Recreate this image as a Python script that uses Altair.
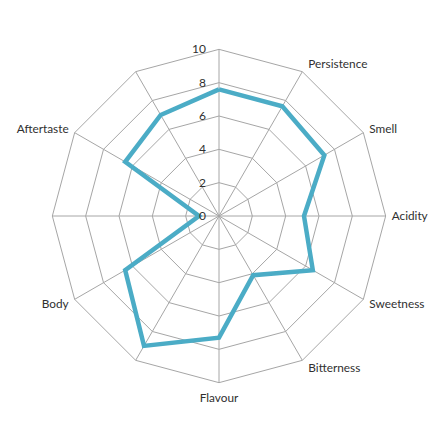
import altair as alt
import pandas as pd

categories = ["", "Persistence", "Smell", "Acidity", "Sweetness", "Bitterness",
              "Flavour", "", "Body", "", "Aftertaste", ""]
values = [7.6, 7.6, 7.3, 5.1, 6.5, 4.1, 7.3, 9.0, 6.5, 1.2, 6.5, 7.0]
ticks = [0, 2, 4, 6, 8, 10]
rmax = 10

n = len(categories)
FONT = "Lato"
GRID = "#a6a6a6"
LINE = "#4bacc6"
TEXT = "#303030"

series = pd.DataFrame({"idx": list(range(n)) + [n],
                       "value": values + [values[0]]})
rings = pd.DataFrame([{"ring": t, "idx": i} for t in ticks if t > 0 for i in range(n + 1)])
spokes = pd.DataFrame({"idx": list(range(n)), "cat": categories})
tickdf = pd.DataFrame({"tick": ticks, "label": [str(t) for t in ticks]})

N = str(n)
ang = "datum.idx * 2 * PI / " + N

xs = alt.Scale(domain=[-12.66, 12.90], nice=False, zero=False)
ys = alt.Scale(domain=[-13.08, 12.48], nice=False, zero=False)

ring_layer = alt.Chart(rings).transform_calculate(
    x="datum.ring * sin(" + ang + ")", y="datum.ring * cos(" + ang + ")"
).mark_line(color=GRID, strokeWidth=1).encode(
    x=alt.X("x:Q", scale=xs, axis=None),
    y=alt.Y("y:Q", scale=ys, axis=None),
    detail="ring:N",
    order="idx:Q",
)

spoke_layer = alt.Chart(spokes).transform_calculate(
    x0="0", y0="0",
    x=str(rmax) + " * sin(" + ang + ")", y=str(rmax) + " * cos(" + ang + ")"
).mark_rule(color=GRID, strokeWidth=1).encode(
    x=alt.X("x0:Q", scale=xs, axis=None),
    y=alt.Y("y0:Q", scale=ys, axis=None),
    x2="x:Q", y2="y:Q",
)

series_layer = alt.Chart(series).transform_calculate(
    x="datum.value * sin(" + ang + ")", y="datum.value * cos(" + ang + ")"
).mark_line(color=LINE, strokeWidth=4.5, strokeJoin="miter").encode(
    x=alt.X("x:Q", scale=xs, axis=None),
    y=alt.Y("y:Q", scale=ys, axis=None),
    order="idx:Q",
)

tick_layer = alt.Chart(tickdf).transform_calculate(x0="0").mark_text(
    align="right", baseline="middle", dx=-13, font=FONT, fontSize=12, color=TEXT
).encode(
    x=alt.X("x0:Q", scale=xs, axis=None),
    y=alt.Y("tick:Q", scale=ys, axis=None),
    text="label:N",
)

lab_base = alt.Chart(spokes).transform_calculate(
    s="sin(" + ang + ")", c="cos(" + ang + ")"
).transform_filter("datum.cat != ''")

FS = 11.8
right_lab = lab_base.transform_filter("datum.s > 0.1").transform_calculate(
    lx=str(rmax) + " * datum.s + 0.36", ly=str(rmax) + " * datum.c + 0.5 * datum.c"
).mark_text(align="left", baseline="middle", font=FONT, fontSize=FS, color=TEXT).encode(
    x=alt.X("lx:Q", scale=xs, axis=None), y=alt.Y("ly:Q", scale=ys, axis=None), text="cat:N")

left_lab = lab_base.transform_filter("datum.s < -0.1").transform_calculate(
    lx=str(rmax) + " * datum.s - 0.36", ly=str(rmax) + " * datum.c + 0.5 * datum.c"
).mark_text(align="right", baseline="middle", font=FONT, fontSize=FS, color=TEXT).encode(
    x=alt.X("lx:Q", scale=xs, axis=None), y=alt.Y("ly:Q", scale=ys, axis=None), text="cat:N")

bottom_lab = lab_base.transform_filter("abs(datum.s) <= 0.1 && datum.c < 0").transform_calculate(
    lx="0", ly=str(rmax) + " * datum.c - 0.6"
).mark_text(align="center", baseline="top", font=FONT, fontSize=FS, color=TEXT).encode(
    x=alt.X("lx:Q", scale=xs, axis=None), y=alt.Y("ly:Q", scale=ys, axis=None), text="cat:N")

chart = alt.layer(
    ring_layer, spoke_layer, series_layer, tick_layer, right_lab, left_lab, bottom_lab
).properties(
    width=426, height=426, padding=0,
    autosize=alt.AutoSizeParams(type="fit", contains="padding"),
).configure(background="white").configure_view(stroke=None, strokeWidth=0)

chart.save("out.html", embed_options={"renderer": "svg", "actions": False})
